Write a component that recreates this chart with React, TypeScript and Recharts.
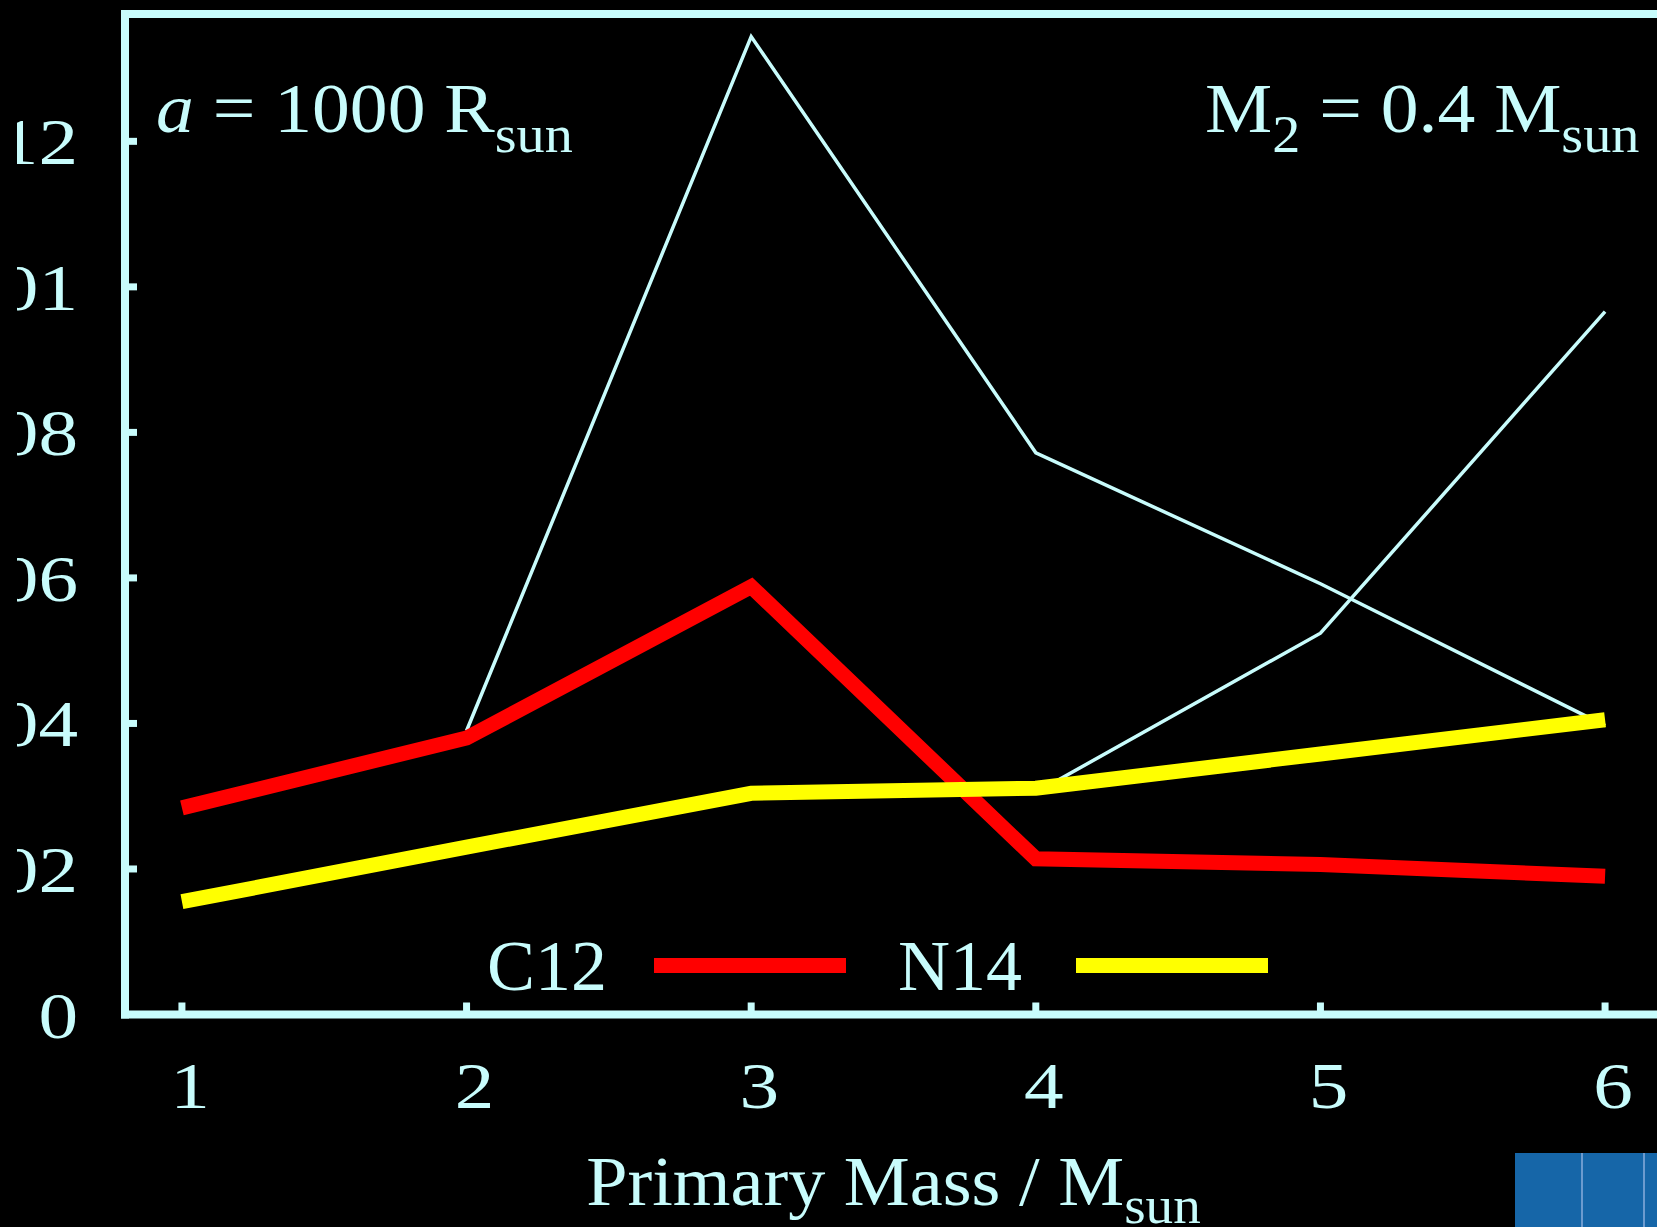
import React from 'react';
import { LineChart, Line, XAxis, YAxis, Legend } from 'recharts';

// ---- data ----
const masses = [1, 2, 3, 4, 5, 6];
const c12 = [0.00284, 0.0038, 0.00588, 0.00214, 0.00206, 0.0019];
const n14 = [0.00155, 0.0023, 0.00304, 0.00311, 0.00358, 0.00405];
const thinA: (number | null)[] = [null, 0.0039, 0.01344, 0.00772, 0.00592, 0.00397];
const thinB: (number | null)[] = [null, null, null, 0.00305, 0.00524, 0.00966];
const xTicks = [1, 2, 3, 4, 5, 6];
const xTickLabels = ['1', '2', '3', '4', '5', '6'];
const yTicks = [0, 0.002, 0.004, 0.006, 0.008, 0.01, 0.012];
const yTickLabels = ['0', '0.002', '0.004', '0.006', '0.008', '0.01', '0.012'];
const xDomain = [0.8, 6.2];
const yDomain = [0, 0.01375];

const data = masses.map((m, i) => ({
  mass: m,
  c12: c12[i],
  n14: n14[i],
  thinA: thinA[i],
  thinB: thinB[i],
}));

const FG = '#C8FCFC';
const SERIF = '"Liberation Serif", "Times New Roman", serif';

const YTick = (props: any) => {
  const { x, y, payload } = props;
  const idx = yTicks.indexOf(payload.value);
  return (
    <text
      transform={`translate(${x},${y}) scale(1.2,1)`}
      textAnchor="end"
      dy={23}
      fill={FG}
      fontSize={66}
      fontFamily={SERIF}
    >
      {idx >= 0 ? yTickLabels[idx] : String(payload.value)}
    </text>
  );
};

const XTick = (props: any) => {
  const { x, y, payload } = props;
  const idx = xTicks.indexOf(payload.value);
  return (
    <text
      transform={`translate(${x + 8},${y}) scale(1.2,1)`}
      textAnchor="middle"
      fill={FG}
      fontSize={66}
      fontFamily={SERIF}
    >
      {idx >= 0 ? xTickLabels[idx] : String(payload.value)}
    </text>
  );
};

const renderTitle = (props: any) => {
  const vb = props.viewBox || { x: 0, y: 0, width: 0, height: 0 };
  const cx = vb.x + vb.width / 2;
  return (
    <text
      transform={`translate(${cx},${vb.y + 190.5}) scale(1.06,1)`}
      textAnchor="middle"
      fill={FG}
      fontSize={70}
      fontFamily={SERIF}
    >
      Primary Mass / M
      <tspan dy={18} fontSize={52}>sun</tspan>
    </text>
  );
};

const renderLegend = (props: any) => {
  const items = (props.payload || []).filter((p: any) => p.type !== 'none' && p.value);
  const textGaps = [0, 52];
  const barGaps = [47, 54];
  return (
    <div
      style={{
        display: 'flex',
        alignItems: 'flex-start',
        fontFamily: SERIF,
        fontSize: 72,
        lineHeight: '72px',
        color: FG,
        whiteSpace: 'nowrap',
      }}
    >
      {items.map((it: any, i: number) => (
        <React.Fragment key={i}>
          <span style={{ marginLeft: textGaps[i] ?? 52 }}>{it.value}</span>
          <span
            style={{
              display: 'inline-block',
              marginLeft: barGaps[i] ?? 50,
              marginTop: 28,
              width: 192,
              height: 15,
              background: it.color,
            }}
          />
        </React.Fragment>
      ))}
    </div>
  );
};

const annStyle: React.CSSProperties = {
  position: 'absolute',
  fontFamily: SERIF,
  fontSize: 70,
  lineHeight: '70px',
  color: FG,
  whiteSpace: 'nowrap',
  transform: 'scaleX(1.08)',
  transformOrigin: 'left top',
};

const axisLineStyle = { stroke: FG, strokeWidth: 8, strokeLinecap: 'square' as const };
const tickLineStyle = { stroke: FG, strokeWidth: 7 };

export default function App() {
  return (
    <div
      style={{
        position: 'absolute',
        left: 0,
        top: 0,
        width: 1657,
        height: 1227,
        overflow: 'hidden',
        background: '#000',
      }}
    >
      <LineChart
        width={1700}
        height={1227}
        data={data}
        margin={{ top: 13, left: 124, right: 37, bottom: 211.5 }}
      >
        <XAxis
          dataKey="mass"
          type="number"
          domain={xDomain}
          ticks={xTicks}
          interval={0}
          allowDataOverflow
          height={1}
          tickSize={-12}
          tickMargin={105}
          axisLine={axisLineStyle}
          tickLine={tickLineStyle}
          tick={<XTick />}
          label={renderTitle}
        />
        <XAxis
          xAxisId="top"
          orientation="top"
          dataKey="mass"
          type="number"
          domain={xDomain}
          ticks={xTicks}
          interval={0}
          allowDataOverflow
          height={1}
          tickSize={-12}
          axisLine={axisLineStyle}
          tickLine={tickLineStyle}
          tick={false}
        />
        <YAxis
          type="number"
          domain={yDomain}
          ticks={yTicks}
          interval={0}
          allowDataOverflow
          width={1}
          tickSize={-12}
          tickMargin={59}
          axisLine={axisLineStyle}
          tickLine={tickLineStyle}
          tick={<YTick />}
        />
        <YAxis
          yAxisId="right"
          orientation="right"
          type="number"
          domain={yDomain}
          ticks={yTicks}
          interval={0}
          allowDataOverflow
          width={1}
          tickSize={-12}
          axisLine={axisLineStyle}
          tickLine={tickLineStyle}
          tick={false}
        />
        <Legend
          layout="horizontal"
          verticalAlign="middle"
          align="center"
          content={renderLegend}
          wrapperStyle={{ left: 487, top: 930, width: 'auto', height: 'auto', margin: 0 }}
        />
        <Line
          type="linear"
          dataKey="thinA"
          stroke={FG}
          strokeWidth={3.5}
          dot={false}
          activeDot={false}
          legendType="none"
          isAnimationActive={false}
        />
        <Line
          type="linear"
          dataKey="thinB"
          stroke={FG}
          strokeWidth={3.5}
          dot={false}
          activeDot={false}
          legendType="none"
          isAnimationActive={false}
        />
        <Line
          type="linear"
          dataKey="c12"
          name="C12"
          stroke="#FF0000"
          strokeWidth={15}
          dot={false}
          activeDot={false}
          isAnimationActive={false}
        />
        <Line
          type="linear"
          dataKey="n14"
          name="N14"
          stroke="#FFFF00"
          strokeWidth={15}
          dot={false}
          activeDot={false}
          isAnimationActive={false}
        />
      </LineChart>

      <div style={{ ...annStyle, left: 156, top: 74 }}>
        <i>a</i> = 1000 R<span style={{ fontSize: 52, verticalAlign: '-20px' }}>sun</span>
      </div>
      <div style={{ ...annStyle, left: 1205, top: 74 }}>
        M<span style={{ fontSize: 52, verticalAlign: '-20px' }}>2</span> = 0.4 M
        <span style={{ fontSize: 52, verticalAlign: '-20px' }}>sun</span>
      </div>

      <div style={{ position: 'absolute', left: 0, top: 0, width: 17, height: 1100, background: '#000' }} />

      <div
        style={{
          position: 'absolute',
          left: 1515,
          top: 1153,
          width: 142,
          height: 74,
          background: '#1666A8',
        }}
      >
        <div style={{ position: 'absolute', left: 66, top: 0, width: 2, height: 74, background: '#6C9BCF' }} />
        <div style={{ position: 'absolute', left: 128, top: 0, width: 2, height: 74, background: '#6C9BCF' }} />
      </div>
    </div>
  );
}
